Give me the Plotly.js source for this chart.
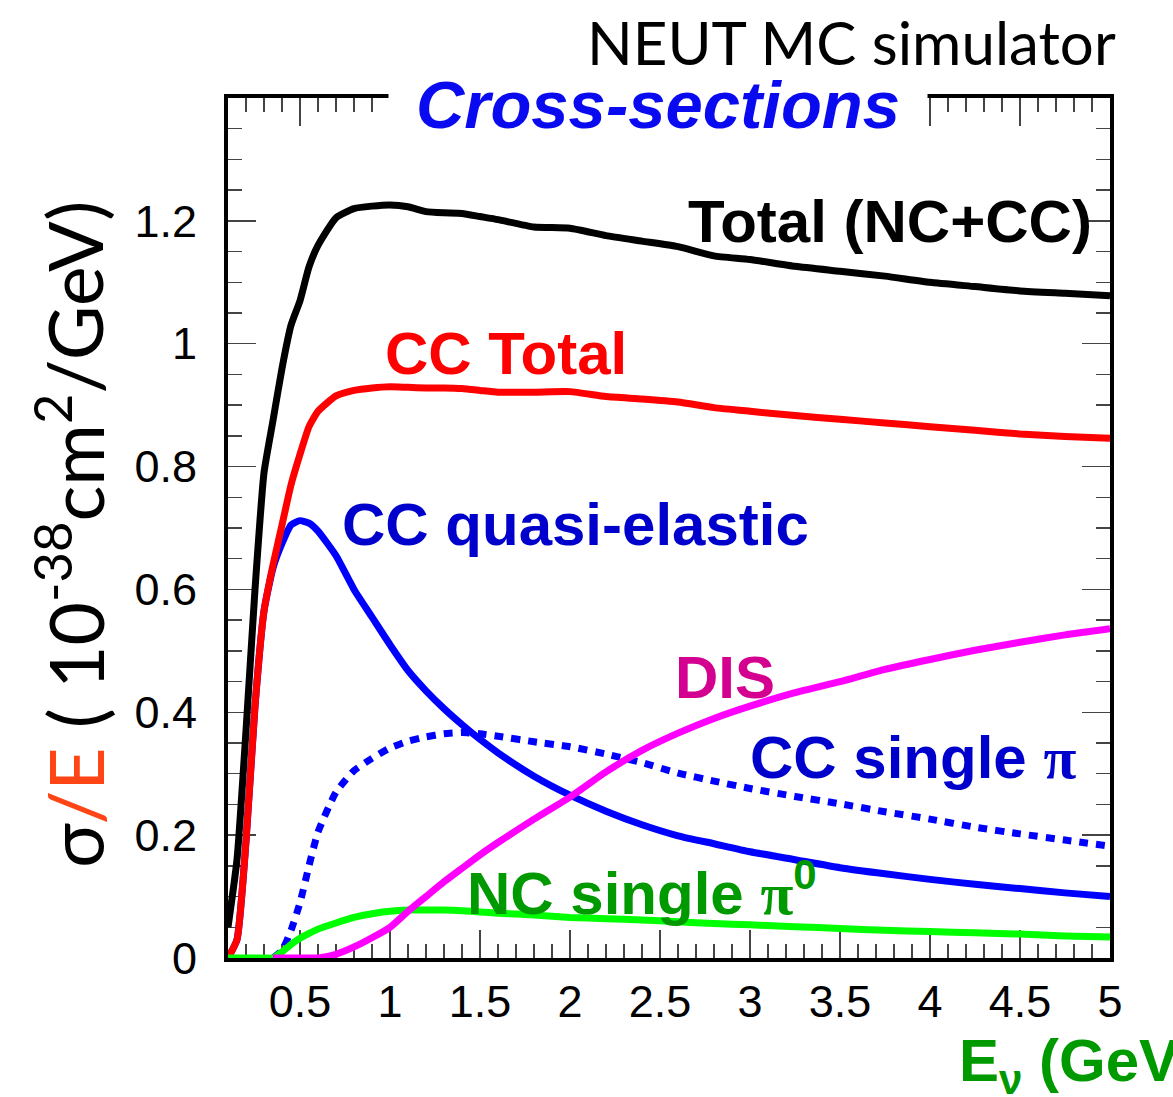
<!DOCTYPE html>
<html>
<head>
<meta charset="utf-8">
<script src="https://cdn.plot.ly/plotly-3.0.1.min.js"></script>
<style>
  html, body { margin: 0; padding: 0; background: #fff; }
  #chart { width: 1173px; height: 1097px; }
</style>
</head>
<body>
<div id="chart"></div>
<script>
// Neutrino energy grid (GeV)
const energy = [0.1, 0.15, 0.2, 0.25, 0.3, 0.35, 0.4, 0.45, 0.5, 0.55, 0.6, 0.7, 0.8, 0.9,
  1.0, 1.1, 1.2, 1.3, 1.4, 1.5, 1.6, 1.8, 2.0, 2.2, 2.4, 2.6, 2.8, 3.0, 3.25, 3.5, 3.75,
  4.0, 4.25, 4.5, 4.75, 5.0];

// sigma/E in units of 1e-38 cm^2/GeV
const totalNcCc = [0.05, 0.16, 0.37, 0.60, 0.79, 0.875, 0.96, 1.03, 1.07, 1.125, 1.16, 1.205, 1.22, 1.224,
  1.226, 1.223, 1.215, 1.213, 1.212, 1.207, 1.202, 1.19, 1.188, 1.176, 1.167, 1.158, 1.143, 1.137, 1.126, 1.118, 1.11,
  1.10, 1.093, 1.086, 1.082, 1.078];

const ccTotal = [0.0, 0.03, 0.19, 0.41, 0.565, 0.64, 0.705, 0.77, 0.82, 0.865, 0.89, 0.915, 0.924, 0.928,
  0.930, 0.929, 0.928, 0.928, 0.927, 0.924, 0.921, 0.921, 0.922, 0.914, 0.910, 0.905, 0.896, 0.890, 0.883, 0.877, 0.871,
  0.865, 0.859, 0.853, 0.849, 0.846];

const ccQuasiElastic = [0.0, 0.03, 0.19, 0.41, 0.565, 0.635, 0.675, 0.705, 0.712, 0.708, 0.695, 0.655, 0.60, 0.555,
  0.51, 0.468, 0.435, 0.406, 0.38, 0.356, 0.334, 0.296, 0.265, 0.239, 0.217, 0.199, 0.186, 0.173, 0.160, 0.147, 0.137,
  0.128, 0.120, 0.113, 0.106, 0.100];

const ccSinglePi = [null, null, null, null, null, 0.0, 0.012, 0.045, 0.09, 0.15, 0.205, 0.27, 0.305, 0.325,
  0.342, 0.353, 0.36, 0.365, 0.367, 0.365, 0.361, 0.352, 0.344, 0.332, 0.318, 0.301, 0.288, 0.276, 0.263, 0.251, 0.238,
  0.226, 0.213, 0.202, 0.192, 0.182];

const dis = [null, null, null, null, null, 0.0, 0.0, 0.0, 0.0, 0.0, 0.0, 0.006, 0.018, 0.033,
  0.05, 0.076, 0.10, 0.124, 0.146, 0.168, 0.188, 0.226, 0.262, 0.303, 0.338, 0.366, 0.39, 0.41, 0.432, 0.45, 0.47,
  0.486, 0.501, 0.514, 0.526, 0.536];

const ncSinglePi0 = [0.0, 0.0, 0.0, 0.0, 0.0, 0.0, 0.01, 0.022, 0.032, 0.04, 0.047, 0.057, 0.066, 0.072,
  0.076, 0.078, 0.078, 0.078, 0.077, 0.075, 0.073, 0.070, 0.066, 0.064, 0.062, 0.059, 0.056, 0.054, 0.051, 0.048, 0.045,
  0.043, 0.041, 0.039, 0.036, 0.034];

// Axis tick labels
const xTickVals = [0.5, 1, 1.5, 2, 2.5, 3, 3.5, 4, 4.5, 5];
const xTickText = ['0.5', '1', '1.5', '2', '2.5', '3', '3.5', '4', '4.5', '5'];
const yTickVals = [0, 0.2, 0.4, 0.6, 0.8, 1.0, 1.2];
const yTickText = ['0', '0.2', '0.4', '0.6', '0.8', '1', '1.2'];

// Text labels
const curveLabels = [
  { text: '<b>Total (NC+CC)</b>', x: 2.644, y: 1.1995, color: '#000000' },
  { text: '<b>CC Total</b>', x: 0.961, y: 0.984, color: '#ff0000' },
  { text: '<b>CC quasi-elastic</b>', x: 0.722, y: 0.705, color: '#0000cc' },
  { text: '<b>DIS</b>', x: 2.572, y: 0.457, color: '#d4008f' },
  { text: '<b>CC single <span style="font-family:Liberation Serif">π</span></b>', x: 2.989, y: 0.3265, color: '#0000cc' },
  { text: '<b>NC single <span style="font-family:Liberation Serif">π</span><sup>0</sup></b>', x: 1.417, y: 0.112, color: '#009900' }
];
const titleText = '<b><i>Cross-sections</i></b>';
const simText = 'NEUT MC simulator';
const yTitleText = 'σ<span style="color:#ff4515">/E</span> ( 10<sup>-38</sup>cm<sup>2</sup>/GeV)';
const xTitleText = '<b>E<sub>ν</sub> (GeV)</b>';

const sansBold = 'Liberation Sans, Arial, sans-serif';
const lineW = 7;

const traces = [
  { name: 'CC single pi', x: energy, y: ccSinglePi, color: '#0000ff', dash: '9px,8px' },
  { name: 'CC quasi-elastic', x: energy, y: ccQuasiElastic, color: '#0000ff', dash: 'solid' },
  { name: 'CC Total', x: energy, y: ccTotal, color: '#ff0000', dash: 'solid' },
  { name: 'Total (NC+CC)', x: energy, y: totalNcCc, color: '#000000', dash: 'solid' },
  { name: 'NC single pi0', x: energy, y: ncSinglePi0, color: '#00ff00', dash: 'solid' },
  { name: 'DIS', x: energy, y: dis, color: '#ff00ff', dash: 'solid' }
].map(s => ({
  type: 'scatter', mode: 'lines', name: s.name, x: s.x, y: s.y,
  line: { color: s.color, width: lineW, dash: s.dash, shape: 'spline', smoothing: 0.5 },
  connectgaps: false, hoverinfo: 'skip'
}));

const annotations = curveLabels.map(l => ({
  xref: 'x', yref: 'y', x: l.x, y: l.y, xanchor: 'left', yanchor: 'middle',
  text: l.text, showarrow: false,
  font: { family: sansBold, size: 60, color: l.color }
}));

// Plot title sits on a white box that interrupts the top frame
annotations.push({
  xref: 'paper', yref: 'paper', x: 0.4875, y: 0.9919, xanchor: 'center', yanchor: 'middle',
  text: titleText, showarrow: false, bgcolor: '#ffffff', width: 534, borderpad: 2,
  font: { family: sansBold, size: 67, color: '#0a0af0' }
});
annotations.push({
  xref: 'paper', yref: 'paper', x: 1.009, y: 1.065, xanchor: 'right', yanchor: 'middle',
  text: simText, showarrow: false,
  font: { family: 'Lato, sans-serif', size: 60, color: '#000000' }
});
annotations.push({
  xref: 'paper', yref: 'paper', x: 0, y: 0.5, xshift: -158, yshift: -7,
  xanchor: 'center', yanchor: 'middle', textangle: -90,
  text: yTitleText, showarrow: false,
  font: { family: 'Lato, sans-serif', size: 75, color: '#000000' }
});
annotations.push({
  xref: 'paper', yref: 'paper', x: 0.8265, y: -0.1244, xanchor: 'left', yanchor: 'middle',
  text: xTitleText, showarrow: false,
  font: { family: sansBold, size: 60, color: '#009900' }
});

const tickFont = { family: 'Liberation Sans, Arial, sans-serif', size: 45, color: '#000' };

const layout = {
  width: 1173, height: 1097,
  margin: { l: 228, r: 63, t: 98, b: 139, pad: 0 },
  paper_bgcolor: '#ffffff', plot_bgcolor: '#ffffff',
  showlegend: false,
  xaxis: {
    range: [0.1, 5.0], tickmode: 'array', tickvals: xTickVals, ticktext: xTickText,
    ticks: 'inside', ticklen: 28, tickwidth: 1.5, tickcolor: '#444',
    minor: { tick0: 0, dtick: 0.1, ticks: 'inside', ticklen: 14, tickwidth: 1.5, tickcolor: '#444', showgrid: false },
    showline: true, linewidth: 4, linecolor: '#000', mirror: 'ticks',
    showgrid: false, zeroline: false, layer: 'below traces',
    tickfont: tickFont, ticklabelstandoff: 1
  },
  yaxis: {
    range: [0, 1.4], tickmode: 'array', tickvals: yTickVals, ticktext: yTickText,
    ticks: 'inside', ticklen: 28, tickwidth: 1.5, tickcolor: '#444',
    minor: { tick0: 0, dtick: 0.05, ticks: 'inside', ticklen: 14, tickwidth: 1.5, tickcolor: '#444', showgrid: false },
    showline: true, linewidth: 4, linecolor: '#000', mirror: 'ticks',
    showgrid: false, zeroline: false, layer: 'below traces',
    tickfont: tickFont, ticklabelstandoff: 18
  },
  annotations: annotations
};

Plotly.newPlot('chart', traces, layout, { staticPlot: true, displayModeBar: false });
</script>
</body>
</html>
